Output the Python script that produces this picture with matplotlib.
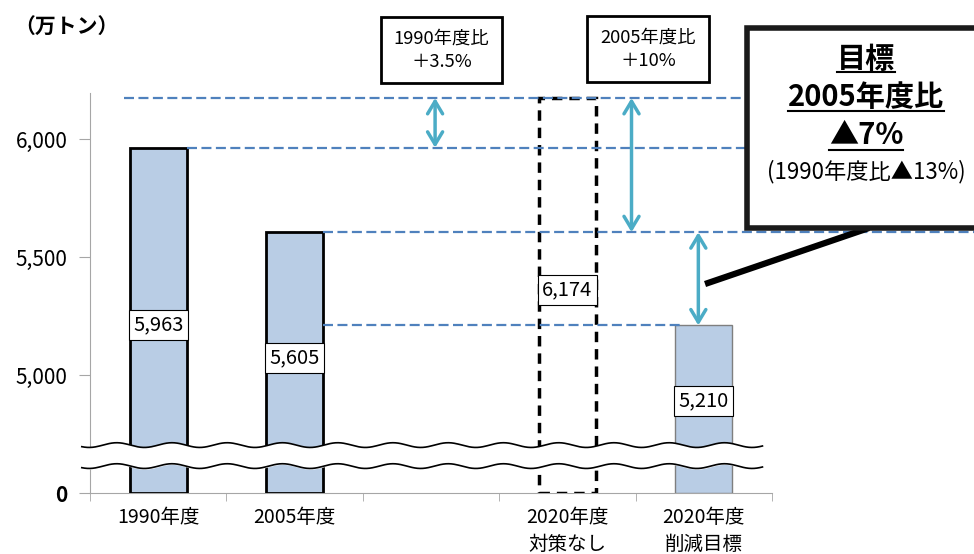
import matplotlib.pyplot as plt
import numpy as np
from matplotlib.patches import Rectangle
from matplotlib.lines import Line2D

plt.rcParams['font.family'] = ['Noto Sans CJK JP', 'DejaVu Sans']

# data
categories = ['1990年度', '2005年度', '', '2020年度\n対策なし', '2020年度\n削減目標']
bar_slots = [0, 1, 3, 4]
bar_values = [5963, 5605, 6174, 5210]
ytick_values = [4500, 5000, 5500, 6000]
ytick_labels = ['0', '5,000', '5,500', '6,000']
floor = 4500  # broken axis: bottom of the axis stands for 0

W, H = 974, 554
def fx(x):
    return x / W
def fy(y):
    return 1 - y / H

fig = plt.figure(figsize=(W / 100, H / 100), dpi=100)
ax = fig.add_axes([fx(90), fy(493), fx(772 - 90), (493 - 93) / H])
ax.set_xlim(-0.5, 4.5)
ax.set_ylim(floor, floor + 400 / 118 * 500)

blue_fill = '#B9CDE5'
dash_blue = '#4F81BD'
arrow_c = '#4BACC6'

# bars
ax.bar(bar_slots[0], bar_values[0] - floor, bottom=floor, width=0.42,
       color=blue_fill, edgecolor='black', linewidth=2, zorder=3)
ax.bar(bar_slots[1], bar_values[1] - floor, bottom=floor, width=0.42,
       color=blue_fill, edgecolor='black', linewidth=2, zorder=3)
ax.bar(bar_slots[2], bar_values[2] - floor, bottom=floor, width=0.42,
       color='white', edgecolor='black', linewidth=2.5, linestyle=(0, (3, 2)), zorder=3)
ax.bar(bar_slots[3], bar_values[3] - floor, bottom=floor, width=0.42,
       color=blue_fill, edgecolor='#7f7f7f', linewidth=1, zorder=3)

# value labels
label_y = [5212, 5072, 5360, 4890]
for s, v, ly in zip(bar_slots, bar_values, label_y):
    ax.text(s, ly, f'{v:,}', ha='center', va='center', fontsize=14.5, zorder=6,
            bbox=dict(boxstyle='square,pad=0.22', fc='white', ec='black', lw=0.8))

# dashed reference lines
ref = [(bar_values[2], -0.25, 6.0), (bar_values[0], 0.21, 6.0),
       (bar_values[1], 1.21, 6.0), (bar_values[3], 1.21, 3.85)]
for v, x0, x1 in ref:
    ax.plot([x0, x1], [v, v], color=dash_blue, lw=1.6, ls=(0, (4.5, 2)),
            zorder=4, clip_on=False)

# arrows
arrows = [(2.03, bar_values[2], bar_values[0]),
          (3.47, bar_values[2], bar_values[1]),
          (3.96, bar_values[1], bar_values[3])]
for x, y0, y1 in arrows:
    ax.annotate('', xy=(x, y1), xytext=(x, y0), zorder=5,
                arrowprops=dict(arrowstyle='<->,head_length=0.45,head_width=0.27',
                                color=arrow_c, lw=2.5, mutation_scale=20,
                                shrinkA=0, shrinkB=0))

# wavy break
xs = np.linspace(-0.56, 4.43, 500)
amp = 10
wave = amp * np.sin(2 * np.pi * xs / 0.405)
top = 4703 + wave
bot = 4614 + wave
ax.fill_between(xs, bot, top, color='white', zorder=7, clip_on=False)
ax.plot(xs, top, color='black', lw=1.2, zorder=8, clip_on=False)
ax.plot(xs, bot, color='black', lw=1.2, zorder=8, clip_on=False)

# axes styling
for sp in ['top', 'right']:
    ax.spines[sp].set_visible(False)
for sp in ['left', 'bottom']:
    ax.spines[sp].set_color('#a6a6a6')
ax.set_yticks(ytick_values)
ax.set_yticklabels(ytick_labels, fontsize=15)
ax.get_yticklabels()[0].set_fontweight('bold')
ax.tick_params(axis='y', length=8, color='#a6a6a6', pad=8)
ax.set_xticks([0, 1, 2, 3, 4])
ax.set_xticklabels(categories, fontsize=14, linespacing=1.4)
ax.set_xticks(np.arange(-0.5, 5, 1), minor=True)
ax.tick_params(axis='x', which='major', length=0, pad=10)
ax.tick_params(axis='x', which='minor', length=6, color='#a6a6a6')

fig.text(fx(14), fy(27), '（万トン）', fontsize=15, fontweight='bold',
         ha='left', va='center')

# small boxes
for (x0, y0, x1, y1), txt in [((381, 17, 502, 83), '1990年度比\n＋3.5%'),
                              ((587, 16, 709, 82), '2005年度比\n＋10%')]:
    fig.add_artist(Rectangle((fx(x0), fy(y1)), fx(x1 - x0), (y1 - y0) / H,
                             fill=True, fc='white', ec='black', lw=2))
    fig.text(fx((x0 + x1) / 2), fy((y0 + y1) / 2), txt, ha='center', va='center',
             fontsize=13.2, linespacing=1.4)

# big target box
fig.add_artist(Line2D([fx(866), fx(708)], [fy(229), fy(283)], color='black', lw=4.5))
fig.add_artist(Rectangle((fx(747), fy(228)), fx(240), 200 / H, fc='white',
                         ec='#1a1a1a', lw=4, zorder=10))
big = []
big.append(fig.text(fx(866), fy(59), '目標', fontsize=21, fontweight='bold',
                    ha='center', va='center', zorder=11))
big.append(fig.text(fx(866), fy(97), '2005年度比', fontsize=21, fontweight='bold',
                    ha='center', va='center', zorder=11))
big.append(fig.text(fx(866), fy(135), '▲7%', fontsize=21, fontweight='bold',
                    ha='center', va='center', zorder=11))
fig.text(fx(866), fy(172), '(1990年度比▲13%)', fontsize=16,
         ha='center', va='center', zorder=11)

fig.canvas.draw()
r = fig.canvas.get_renderer()
for t, uy in zip(big, [72, 111, 150]):
    bb = t.get_window_extent(r)
    fig.add_artist(Line2D([bb.x0 / W, bb.x1 / W], [fy(uy), fy(uy)],
                          color='black', lw=1.5, zorder=12))

fig.savefig('out.png', dpi=100)
